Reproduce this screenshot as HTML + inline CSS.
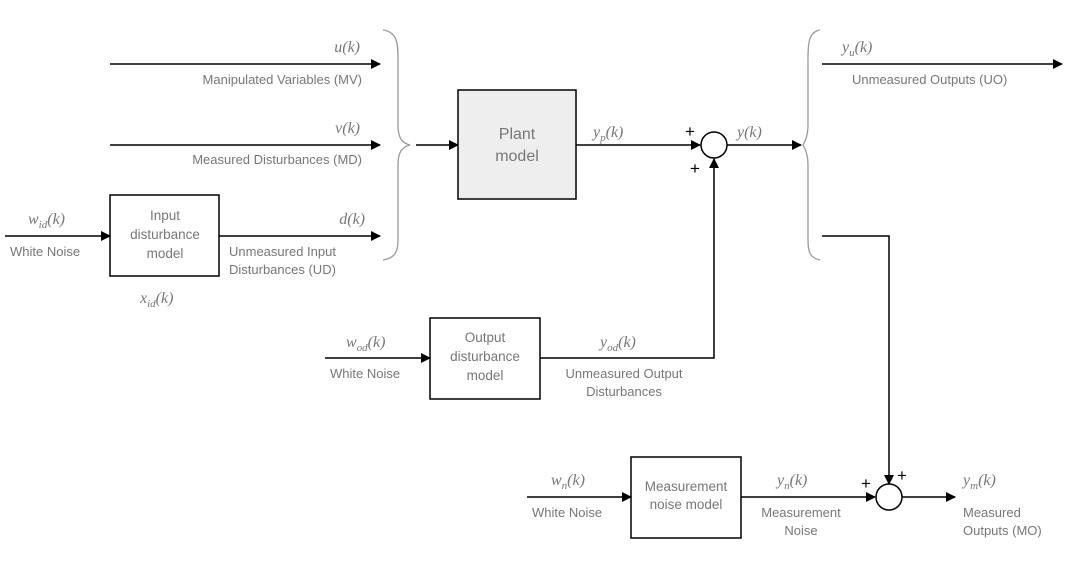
<!DOCTYPE html>
<html><head><meta charset="utf-8"><style>
html,body{margin:0;padding:0;background:#fff;}
svg{display:block}
.t{font-family:"Liberation Sans",sans-serif;font-size:13px;fill:#777}
.b{font-size:13.5px}
.m{font-family:"Liberation Serif",serif;font-style:italic;font-size:16px;fill:#777}
.s{font-size:11px}
.p{font-family:"Liberation Sans",sans-serif;font-size:17px;fill:#000}
</style></head><body>
<svg width="1068" height="569" viewBox="0 0 1068 569" xmlns="http://www.w3.org/2000/svg">
<defs><marker id="a" markerWidth="10" markerHeight="10" refX="9" refY="5" orient="auto" markerUnits="userSpaceOnUse"><path d="M0,0 L10,5 L0,10 z" fill="#000"/></marker></defs>
<g stroke="#000" stroke-width="1.5" fill="none">
<line x1="110" y1="64" x2="380" y2="64" marker-end="url(#a)"/>
<line x1="110" y1="145" x2="380" y2="145" marker-end="url(#a)"/>
<line x1="5" y1="236" x2="110" y2="236" marker-end="url(#a)"/>
<rect x="110" y="195" width="109" height="81"/>
<line x1="219" y1="236" x2="380" y2="236" marker-end="url(#a)"/>
<line x1="416" y1="145" x2="458" y2="145" marker-end="url(#a)"/>
<rect x="458" y="90" width="118" height="109" fill="#eee"/>
<line x1="576" y1="145" x2="700" y2="145" marker-end="url(#a)"/>
<circle cx="714" cy="145" r="13"/>
<line x1="727" y1="145" x2="801" y2="145" marker-end="url(#a)"/>
<line x1="822" y1="64" x2="1062" y2="64" marker-end="url(#a)"/>
<polyline points="822,236 889,236 889,484" marker-end="url(#a)"/>
<line x1="325" y1="358" x2="430" y2="358" marker-end="url(#a)"/>
<rect x="430" y="318" width="110" height="81"/>
<polyline points="540,358 714,358 714,159" marker-end="url(#a)"/>
<line x1="527" y1="497" x2="631" y2="497" marker-end="url(#a)"/>
<rect x="631" y="457" width="110" height="81"/>
<line x1="741" y1="497" x2="875" y2="497" marker-end="url(#a)"/>
<circle cx="889" cy="497" r="13"/>
<line x1="902" y1="497" x2="955" y2="497" marker-end="url(#a)"/>
</g>
<g stroke="#999" stroke-width="1.3" fill="none">
<path d="M383,30 C398,32 398,45 398,60 L398,125 C398,138 402,143 410,145 C402,147 398,152 398,165 L398,240 C398,252 395,258 383,260"/>
<path d="M820,30 C808,32 808,45 808,60 L808,125 C808,138 804,143 803,145 C804,147 808,152 808,165 L808,240 C808,252 810,258 820,260"/>
</g>
<text class="m" x="360" y="52" text-anchor="end">u(k)</text>
<text class="t" x="362" y="84" text-anchor="end">Manipulated Variables (MV)</text>
<text class="m" x="360" y="133" text-anchor="end">v(k)</text>
<text class="t" x="362" y="164" text-anchor="end">Measured Disturbances (MD)</text>
<text class="m" x="365" y="224" text-anchor="end">d(k)</text>
<text class="t" x="229" y="256">Unmeasured Input</text>
<text class="t" x="229" y="274">Disturbances (UD)</text>
<text class="m" x="28" y="224">w<tspan class="s" dy="4">id</tspan><tspan dy="-4">(k)</tspan></text>
<text class="t" x="10" y="256">White Noise</text>
<text class="t b" x="165" y="220" text-anchor="middle">Input</text>
<text class="t b" x="165" y="239" text-anchor="middle">disturbance</text>
<text class="t b" x="165" y="258" text-anchor="middle">model</text>
<text class="m" x="140" y="303">x<tspan class="s" dy="4">id</tspan><tspan dy="-4">(k)</tspan></text>
<text class="t" x="517" y="139" text-anchor="middle" style="font-size:16px">Plant</text>
<text class="t" x="517" y="161" text-anchor="middle" style="font-size:16px">model</text>
<text class="m" x="593" y="137">y<tspan class="s" dy="4">p</tspan><tspan dy="-4">(k)</tspan></text>
<text class="p" x="685" y="137">+</text>
<text class="p" x="690" y="174">+</text>
<text class="m" x="737" y="137">y(k)</text>
<text class="m" x="842" y="52">y<tspan class="s" dy="4">u</tspan><tspan dy="-4">(k)</tspan></text>
<text class="t" x="852" y="84">Unmeasured Outputs (UO)</text>
<text class="m" x="346" y="347">w<tspan class="s" dy="4">od</tspan><tspan dy="-4">(k)</tspan></text>
<text class="t" x="330" y="378">White Noise</text>
<text class="t b" x="485" y="342" text-anchor="middle">Output</text>
<text class="t b" x="485" y="361" text-anchor="middle">disturbance</text>
<text class="t b" x="485" y="380" text-anchor="middle">model</text>
<text class="m" x="600" y="347">y<tspan class="s" dy="4">od</tspan><tspan dy="-4">(k)</tspan></text>
<text class="t" x="624" y="378" text-anchor="middle">Unmeasured Output</text>
<text class="t" x="624" y="396" text-anchor="middle">Disturbances</text>
<text class="m" x="551" y="485">w<tspan class="s" dy="4">n</tspan><tspan dy="-4">(k)</tspan></text>
<text class="t" x="532" y="517">White Noise</text>
<text class="t b" x="686" y="491" text-anchor="middle">Measurement</text>
<text class="t b" x="686" y="509" text-anchor="middle">noise model</text>
<text class="m" x="777" y="485">y<tspan class="s" dy="4">n</tspan><tspan dy="-4">(k)</tspan></text>
<text class="t" x="801" y="517" text-anchor="middle">Measurement</text>
<text class="t" x="801" y="535" text-anchor="middle">Noise</text>
<text class="p" x="861" y="489">+</text>
<text class="p" x="897" y="481">+</text>
<text class="m" x="963" y="485">y<tspan class="s" dy="4">m</tspan><tspan dy="-4">(k)</tspan></text>
<text class="t" x="963" y="517">Measured</text>
<text class="t" x="963" y="535">Outputs (MO)</text>
</svg>
</body></html>
